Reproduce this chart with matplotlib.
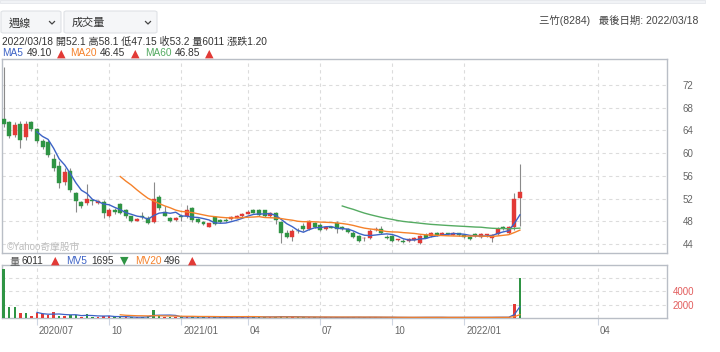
import matplotlib
matplotlib.use('Agg')
import matplotlib.pyplot as plt
from matplotlib.patches import FancyBboxPatch, Rectangle
from matplotlib.lines import Line2D
import matplotlib.transforms as mtransforms
import numpy as np
import pandas as pd

plt.rcParams['font.family'] = ['Liberation Sans', 'Noto Sans CJK TC', 'DejaVu Sans']

# ── Data (weekly candles, 三竹 8284) ───────────────────────────────────────
opens = [66.0, 65.4, 63.2, 65.2, 62.9, 65.5, 64.2, 62.2, 61.9, 58.9,
         57.7, 54.9, 56.8, 52.9, 51.3, 51.2, 51.7, 51.2, 51.4, 49.0,
         50.0, 51.0, 50.0, 48.9, 48.1, 48.9, 48.6, 47.9, 52.3, 49.7,
         48.6, 48.3, 48.9, 48.9, 50.3, 48.4, 47.9, 47.0, 48.8, 48.2,
         48.3, 48.4, 48.6, 48.9, 49.3, 49.9, 49.9, 49.9, 48.9, 49.5,
         47.9, 46.0, 45.2, 46.3, 47.2, 46.6, 47.6, 47.4, 46.6, 46.95,
         47.6, 47.0, 46.6, 46.0, 45.4, 45.0, 45.1, 46.4, 46.6, 45.3,
         45.4, 44.7, 44.6, 44.5, 44.7, 44.2, 45.6, 45.4, 45.9, 45.6,
         45.9, 45.6, 45.9, 45.6, 45.3, 45.7, 45.3, 45.5, 45.0, 45.7,
         47.0, 46.0, 46.9, 52.1]
highs = [75.2, 65.6, 65.4, 65.6, 65.6, 65.7, 64.5, 62.4, 62.3, 59.9,
         58.6, 57.3, 57.3, 53.1, 51.5, 54.6, 52.0, 51.8, 51.8, 50.3,
         50.3, 51.2, 50.2, 49.0, 48.6, 49.6, 48.9, 54.9, 52.6, 50.7,
         48.8, 48.7, 49.3, 50.8, 50.5, 48.6, 48.1, 47.7, 48.9, 48.4,
         48.5, 48.9, 49.1, 49.4, 49.9, 50.1, 50.1, 50.0, 49.7, 49.7,
         48.1, 46.5, 46.6, 46.8, 47.6, 48.2, 47.8, 47.6, 47.1, 47.0,
         48.0, 47.2, 46.8, 46.2, 45.6, 45.3, 46.6, 46.9, 47.1, 45.5,
         45.6, 44.9, 44.8, 45.0, 45.2, 45.6, 46.0, 46.1, 46.1, 46.1,
         46.0, 46.1, 46.0, 45.7, 45.4, 45.9, 45.9, 45.8, 45.7, 47.0,
         47.2, 47.1, 52.9, 58.1]
lows = [64.6, 62.6, 62.8, 60.9, 62.3, 63.9, 61.8, 60.7, 59.3, 56.8,
        53.8, 54.3, 53.2, 49.7, 50.3, 50.8, 50.9, 51.0, 48.5, 48.7,
        49.3, 49.2, 48.6, 47.9, 48.0, 48.4, 47.5, 47.7, 49.9, 48.9,
        47.9, 48.1, 48.1, 48.6, 47.9, 47.6, 47.3, 46.9, 47.4, 47.7,
        47.9, 48.3, 48.5, 48.8, 49.2, 49.4, 48.9, 48.7, 48.8, 47.5,
        44.2, 45.0, 44.6, 45.9, 46.2, 46.4, 46.8, 46.3, 46.4, 46.8,
        46.0, 46.5, 46.0, 45.1, 44.4, 44.6, 44.9, 46.2, 45.7, 44.9,
        44.3, 44.5, 44.2, 44.4, 44.6, 44.0, 45.1, 45.3, 45.4, 45.5,
        45.6, 45.5, 45.4, 45.0, 44.7, 45.2, 45.1, 45.3, 44.4, 45.5,
        46.5, 45.8, 46.4, 47.15]
closes = [65.1, 63.0, 65.0, 62.3, 65.1, 64.2, 62.1, 61.0, 59.7, 57.3,
          54.8, 56.7, 53.5, 51.6, 50.7, 51.9, 51.5, 51.6, 49.5, 50.0,
          49.6, 49.5, 48.9, 48.1, 48.4, 48.8, 47.6, 52.0, 50.3, 49.0,
          48.1, 48.5, 48.8, 50.0, 48.2, 47.8, 47.5, 47.6, 47.5, 47.8,
          48.0, 48.7, 48.9, 49.2, 49.7, 49.5, 49.1, 48.9, 49.5, 48.2,
          45.9, 45.3, 46.3, 46.2, 46.6, 48.1, 47.0, 46.5, 46.9, 46.85,
          46.6, 46.6, 46.1, 45.3, 44.6, 45.05, 46.3, 46.6, 45.9, 45.0,
          44.5, 44.75, 44.4, 44.8, 45.0, 45.4, 45.1, 45.9, 45.6, 45.9,
          45.8, 46.0, 45.6, 45.2, 44.9, 45.4, 45.8, 45.7, 45.6, 46.7,
          46.8, 46.9, 52.0, 53.2]
volumes = [7300, 1700, 1600, 800, 800, 250, 750, 650, 400, 850,
           350, 350, 450, 450, 200, 550, 200, 150, 350, 300,
           120, 150, 100, 120, 100, 150, 350, 1200, 300, 150,
           200, 100, 100, 250, 200, 120, 100, 120, 150, 100,
           100, 130, 120, 150, 200, 130, 200, 150, 150, 200,
           300, 150, 180, 100, 120, 200, 100, 100, 90, 80,
           150, 100, 100, 130, 120, 80, 150, 90, 110, 90,
           110, 70, 80, 80, 90, 150, 100, 90, 90, 90,
           80, 100, 90, 100, 110, 90, 100, 90, 120, 150,
           110, 100, 2100, 6011]
# r = red bar, g = green bar (as shown on the volume panel)
vol_dir = list(''.join([
    'gggrgrrrrr', 'grggrggrrr', 'ggrgrggggr', 'grgrgggrgg', 'grrrrgggrg',
    'ggrggrggrg', 'ggggggrrgg', 'gggrrrgrgr', 'grggggrrrr', 'grrg']))

x_ticks = [6, 19, 32, 44, 57, 70, 83, 107]
x_labels = ['2020/07', '10', '2021/01', '04', '07', '10', '2022/01', '04']
price_ticks = [44, 48, 52, 56, 60, 64, 68, 72]

# ── Theme ─────────────────────────────────────────────────────────────────
RED = '#e23a36'
GREEN = '#2f9444'
BLUE = '#3d63c6'
ORANGE = '#f5812a'
MA60C = '#55ab62'
FRAME = '#b9bec6'
GRID = '#dcdcdc'
TXT = '#333333'
W, H = 720, 352
FS = 7.3
TRI = 8
TRI_FONT = ['DejaVu Sans']


def fx(px):
    return px / W


def fy(py):
    return 1 - py / H


fig = plt.figure(figsize=(7.2, 3.52), dpi=100)
fig.patch.set_facecolor('white')

# top toolbar strip
fig.add_artist(Rectangle((0, fy(3)), fx(705), 3 / H, transform=fig.transFigure,
                         facecolor='#f1f3f6', edgecolor='#e4e7eb', lw=0.6))

# dropdown boxes
for x0, x1, label in [(1, 61, '週線'), (64, 157, '成交量')]:
    fig.add_artist(FancyBboxPatch((fx(x0), fy(33)), fx(x1 - x0), 22 / H,
                                  boxstyle='round,pad=0,rounding_size=0.004',
                                  transform=fig.transFigure, facecolor='#f5f6f8',
                                  edgecolor='#dfe2e6', lw=0.8))
    fig.text(fx(x0 + 8), fy(23), label, fontsize=8, color=TXT, va='center')
    cx = x1 - 9
    fig.add_artist(Line2D([fx(cx - 2.5), fx(cx), fx(cx + 2.5)],
                          [fy(21.5), fy(24), fy(21.5)], transform=fig.transFigure,
                          color='#444444', lw=0.9))

fig.text(fx(698), fy(20), '三竹(8284)   最後日期: 2022/03/18', fontsize=7.5,
         color='#444444', ha='right', va='center')

fig.text(fx(2), fy(41.5), '2022/03/18 開52.1 高58.1 低47.15 收53.2 量6011 漲跌1.20',
         fontsize=FS, color=TXT, va='center')

for px, s, c in [(2, 'MA5', BLUE), (27, '49.10', TXT), (57, '▲', RED),
                 (70, 'MA20', ORANGE), (100, '46.45', TXT), (131, '▲', RED),
                 (145, 'MA60', MA60C), (175, '46.85', TXT), (205, '▲', RED)]:
    tri = s in '▲▼'
    fig.text(fx(px), fy(53.5), s, fontsize=TRI if tri else FS, color=c, va='center',
             family=TRI_FONT if tri else None)

for px, s, c in [(9, '量', '#555555'), (22, '6011', TXT), (51, '▲', RED),
                 (66, 'MV5', BLUE), (91, '1695', TXT), (120, '▼', GREEN),
                 (135, 'MV20', ORANGE), (164, '496', TXT), (188, '▲', RED)]:
    tri = s in '▲▼'
    fig.text(fx(px), fy(261), s, fontsize=TRI if tri else FS, color=c, va='center',
             family=TRI_FONT if tri else None)

# ── Price panel ───────────────────────────────────────────────────────────
ax = fig.add_axes([fx(2), fy(253), fx(665), 194 / H])
axv = fig.add_axes([fx(2), fy(318), fx(665), 53 / H])

idx = np.arange(len(closes))
o = np.array(opens)
c = np.array(closes)
up = c >= o
cols = np.where(up, RED, GREEN)

ax.vlines(idx, lows, highs, color='#8a8a8a', lw=0.8, zorder=3)
ax.bar(idx, np.maximum(np.abs(c - o), 0.1), bottom=np.minimum(o, c), width=0.72,
       color=cols, edgecolor=cols, lw=0.3, zorder=4)

close_s = pd.Series(closes)
for n, col in [(5, BLUE), (20, ORANGE), (60, MA60C)]:
    ma = close_s.rolling(n).mean()
    ma[:n + 1] = np.nan
    ax.plot(idx, ma, color=col, lw=1.0, zorder=5)

ax.text(0.5, 42.9, '©Yahoo奇摩股市', fontsize=7, color='#bdbdbd', zorder=6)

ax.set_xlim(-0.3, 119.5)
ax.set_ylim(42.4, 76.58)
ax.set_xticks(x_ticks)
ax.set_xticklabels([])
ax.set_yticks(price_ticks)
ax.yaxis.tick_right()
ax.tick_params(axis='y', length=0, pad=11.5, labelsize=7, labelcolor='#666666')
ax.tick_params(axis='x', length=0)
ax.grid(True, color=GRID, ls=(0, (3, 3)), lw=0.8)
ax.set_axisbelow(True)
for sp in ax.spines.values():
    sp.set_color(FRAME)
    sp.set_linewidth(1.0)

# ── Volume panel ──────────────────────────────────────────────────────────
vcols = [RED if d == 'r' else GREEN for d in vol_dir]
axv.bar(idx, volumes, width=0.45, color=vcols, zorder=3)
vol_s = pd.Series(volumes, dtype=float)
for n, col in [(5, BLUE), (20, ORANGE)]:
    mv = vol_s.rolling(n).mean()
    mv[:n + 1] = np.nan
    axv.plot(idx, mv, color=col, lw=0.9, zorder=4)

axv.set_xlim(-0.3, 119.5)
axv.set_ylim(0, 7950)
axv.set_yticks([2000, 4000, 6000])
axv.set_yticklabels(['2000', '4000', ''])
axv.yaxis.tick_right()
axv.tick_params(axis='y', length=0, pad=4.3, labelsize=7, labelcolor='#e25c5c')
axv.set_xticks(x_ticks)
axv.set_xticklabels(x_labels, ha='left')
axv.tick_params(axis='x', length=5, width=0.8, color='#cfd6e2', pad=0.5,
                labelsize=7, labelcolor='#666666')
offset = mtransforms.ScaledTranslation(2 / 100, 0, fig.dpi_scale_trans)
for lbl in axv.get_xticklabels():
    lbl.set_transform(lbl.get_transform() + offset)
axv.grid(True, color=GRID, ls=(0, (3, 3)), lw=0.8)
axv.set_axisbelow(True)
for sp in axv.spines.values():
    sp.set_color(FRAME)
    sp.set_linewidth(1.0)

fig.savefig('out.png', dpi=100)
